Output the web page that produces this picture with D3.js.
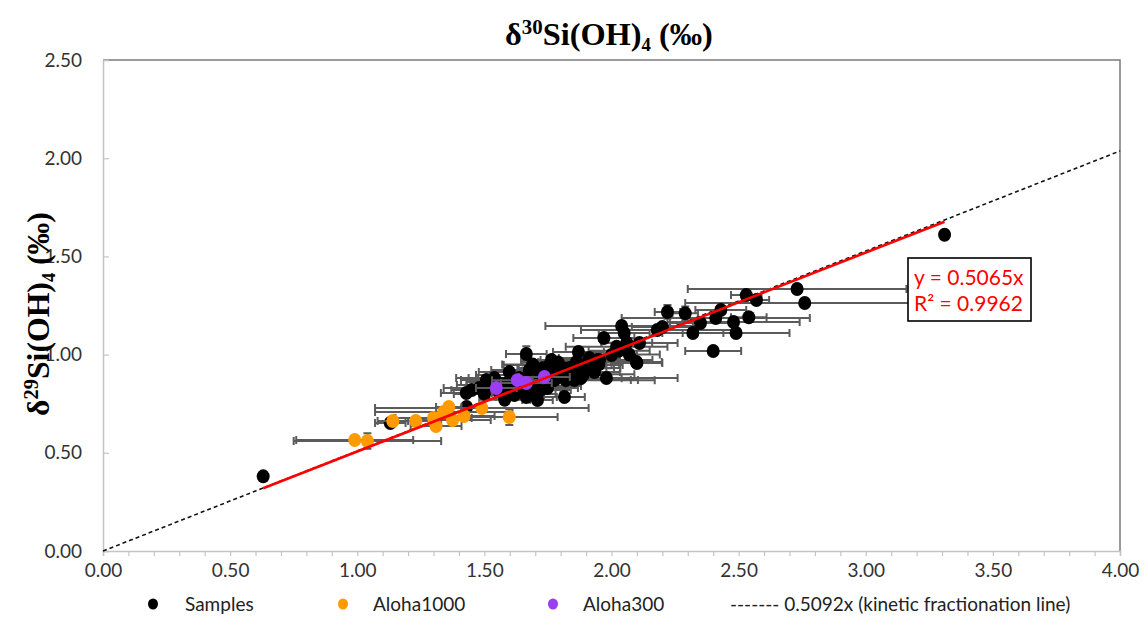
<!DOCTYPE html>
<html>
<head>
<meta charset="utf-8">
<script src="https://cdn.jsdelivr.net/npm/d3@7"></script>
<style>
  body { margin: 0; background: #fff; }
  svg { display: block; }
</style>
</head>
<body>
<svg id="chart" width="1148" height="618"></svg>
<script>
// ---- data: δ30Si (x) vs δ29Si (y), with ± uncertainties ----
const samplesX    = [0.63, 3.31, 1.13, 2.73, 2.76, 2.53, 2.57, 2.54, 2.48, 2.49, 2.43, 2.41, 2.35, 2.32, 2.29, 2.22, 2.20, 2.18, 2.40, 2.11, 2.04, 2.05, 1.97, 2.02, 2.07, 2.10, 1.98, 1.87, 1.862, 1.941, 1.665, 1.764, 1.815, 1.709, 1.665, 1.618, 1.429, 1.43, 1.48, 1.512, 1.539, 1.579, 1.598, 1.638, 1.677, 1.717, 1.756, 1.776, 1.795, 1.835, 1.854, 1.894, 1.933, 1.953, 2.00, 1.913, 1.559, 1.748, 1.508, 2.098, 1.82, 1.70, 1.60, 1.66, 1.79, 1.89,
                     1.45, 1.50, 1.53, 1.57, 1.61, 1.64, 1.68, 1.72, 1.74, 1.78, 1.81, 1.86, 1.88, 1.91, 1.95, 1.69, 1.73, 1.58, 2.03, 2.06, 1.55, 1.84];
const samplesY    = [0.38, 1.61, 0.652, 1.334, 1.263, 1.303, 1.278, 1.19, 1.166, 1.11, 1.227, 1.186, 1.161, 1.11, 1.21, 1.217, 1.14, 1.125, 1.018, 1.059, 1.146, 1.11, 1.084, 1.04, 1.00, 0.957, 0.881, 1.013, 0.962, 0.973, 1.003, 0.973, 0.784, 0.769, 0.784, 0.794, 0.804, 0.733, 0.83, 0.845, 0.881, 0.85, 0.911, 0.881, 0.922, 0.896, 0.947, 0.871, 0.911, 0.932, 0.871, 0.947, 0.911, 0.973, 0.998, 0.983, 0.81, 0.83, 0.871, 0.962, 0.87, 0.84, 0.83, 0.86, 0.96, 0.90,
                     0.82, 0.80, 0.86, 0.83, 0.86, 0.82, 0.80, 0.82, 0.87, 0.90, 0.93, 0.94, 0.88, 0.93, 0.95, 0.95, 0.93, 0.77, 1.02, 1.06, 0.86, 0.90];
const samplesXErr = [0, 0, 0.06, 0.43, 0.47, 0.06, 0.05, 0.07, 0.26, 0.21, 0.10, 0.37, 0.12, 0.12, 0.05, 0.05, 0.12, 0.30, 0.11, 0.15, 0.30, 0.10, 0.12, 0.20, 0.12, 0.10, 0.28, 0.10, 0.15, 0.22, 0.08, 0.12, 0.08, 0.06, 0.12, 0.10, 0.10, 0.06, 0.14, 0.12, 0.15, 0.10, 0.12, 0.20, 0.15, 0.25, 0.18, 0.30, 0.12, 0.20, 0.25, 0.15, 0.10, 0.08, 0.10, 0.12, 0.08, 0.12, 0.10, 0.10, 0.35, 0.18, 0.14, 0.10, 0.14, 0.20,
                     0.08, 0.12, 0.10, 0.14, 0.12, 0.16, 0.10, 0.12, 0.10, 0.14, 0.10, 0.12, 0.16, 0.10, 0.08, 0.12, 0.10, 0.10, 0.12, 0.10, 0.12, 0.14];
const samplesYErr = [0, 0, 0.02, 0.02, 0.02, 0.02, 0.02, 0.02, 0.02, 0.02, 0.02, 0.02, 0.02, 0.02, 0.035, 0.035, 0.02, 0.02, 0.02, 0.02, 0.02, 0.02, 0.02, 0.02, 0.02, 0.02, 0.02, 0.02, 0.02, 0.02, 0.04, 0.02, 0.02, 0.02, 0.02, 0.02, 0.02, 0.02, 0.02, 0.02, 0.02, 0.02, 0.02, 0.02, 0.02, 0.02, 0.02, 0.02, 0.02, 0.02, 0.02, 0.02, 0.02, 0.02, 0.02, 0.02, 0.02, 0.02, 0.02, 0.02, 0.02, 0.02, 0.02, 0.02, 0.02, 0.02,
                     0.02, 0.02, 0.02, 0.02, 0.02, 0.02, 0.02, 0.02, 0.02, 0.02, 0.02, 0.02, 0.02, 0.02, 0.02, 0.02, 0.02, 0.02, 0.02, 0.02, 0.02, 0.02];

const aloha1000X    = [0.99, 1.04, 1.14, 1.23, 1.30, 1.31, 1.34, 1.36, 1.375, 1.42, 1.49, 1.598];
const aloha1000Y    = [0.565, 0.56, 0.662, 0.662, 0.677, 0.636, 0.708, 0.733, 0.667, 0.687, 0.728, 0.682];
const aloha1000XErr = [0.23, 0.29, 0.06, 0.10, 0.15, 0.10, 0.27, 0.05, 0.15, 0.12, 0.42, 0.19];
const aloha1000YErr = [0.02, 0.04, 0.02, 0.02, 0.02, 0.02, 0.02, 0.02, 0.02, 0.02, 0.02, 0.04];

const aloha300X    = [1.547, 1.63, 1.665, 1.736];
const aloha300Y    = [0.83, 0.87, 0.855, 0.886];
const aloha300XErr = [0.08, 0.10, 0.10, 0.10];
const aloha300YErr = [0.02, 0.02, 0.02, 0.02];

const xTicks = [0, 0.5, 1, 1.5, 2, 2.5, 3, 3.5, 4];
const yTicks = [0, 0.5, 1, 1.5, 2, 2.5];
const xMinorTicks = d3.range(0, 41).map(i => i / 10);

const fitSlope = 0.5065;       // least-squares fit through the origin
const fitR2 = 0.9962;
const fitRange = [0.63, 3.31];
const kineticSlope = 0.5092;   // kinetic fractionation line
const kineticRange = [0, 4];

const seriesNames = ["Samples", "Aloha1000", "Aloha300"];
const seriesColors = ["#000000", "#FF9A00", "#9B3DF4"];

(function draw() {
  const svg = d3.select("#chart");
  const W = 1148, H = 618;
  const pL = 103, pR = 1120, pT = 60, pB = 551;

  const x = d3.scaleLinear().domain([0, 4]).range([pL, pR]);
  const y = d3.scaleLinear().domain([0, 2.5]).range([pB, pT]);

  const tickFont = "Lato, 'Open Sans', sans-serif";
  const serif = "'Liberation Serif', 'DejaVu Serif', serif";

  svg.append("rect").attr("width", W).attr("height", H).attr("fill", "#fff");

  // plot-area frame (top and right edges)
  svg.append("path")
    .attr("d", `M${pL},${pT}H${pR}V${pB}`)
    .attr("fill", "none").attr("stroke", "#7a7a7a").attr("stroke-width", 1.5);

  // x axis: minor ticks every 0.1, labels every 0.5
  const xMinor = svg.append("g").attr("transform", `translate(0,${pB})`)
    .call(d3.axisBottom(x).tickValues(xMinorTicks).tickSize(5).tickFormat(""));
  xMinor.select(".domain").attr("stroke", "#c4c4c4").attr("stroke-width", 1.5);
  xMinor.selectAll(".tick line").attr("stroke", "#c4c4c4").attr("stroke-width", 1.2);

  const xLab = svg.append("g").attr("transform", `translate(0,${pB})`)
    .call(d3.axisBottom(x).tickValues(xTicks).tickSize(0).tickPadding(13).tickFormat(d3.format(".2f")));
  xLab.select(".domain").remove();
  xLab.selectAll("text").attr("font-family", tickFont).attr("font-size", 19).attr("fill", "#333");

  // y axis: ticks point into the plot
  const yAx = svg.append("g").attr("transform", `translate(${pL},0)`)
    .call(d3.axisLeft(y).tickValues(yTicks).tickSize(-6).tickPadding(21).tickFormat(d3.format(".2f")));
  yAx.select(".domain").attr("stroke", "#c4c4c4").attr("stroke-width", 1.5);
  yAx.selectAll(".tick line").attr("stroke", "#c4c4c4").attr("stroke-width", 1.2);
  yAx.selectAll("text").attr("font-family", tickFont).attr("font-size", 19).attr("fill", "#333");

  // kinetic fractionation line (dashed)
  svg.append("line")
    .attr("x1", x(kineticRange[0])).attr("y1", y(kineticSlope * kineticRange[0]))
    .attr("x2", x(kineticRange[1])).attr("y2", y(kineticSlope * kineticRange[1]))
    .attr("stroke", "#111").attr("stroke-width", 1.6).attr("stroke-dasharray", "4,3");

  // series with error bars
  const series = [
    { xs: samplesX, ys: samplesY, xe: samplesXErr, ye: samplesYErr, color: seriesColors[0] },
    { xs: aloha1000X, ys: aloha1000Y, xe: aloha1000XErr, ye: aloha1000YErr, color: seriesColors[1] },
    { xs: aloha300X, ys: aloha300Y, xe: aloha300XErr, ye: aloha300YErr, color: seriesColors[2] }
  ].map(s => ({ color: s.color, pts: s.xs.map((v, i) => ({ x: v, y: s.ys[i], xe: s.xe[i], ye: s.ye[i] })) }));

  const barColor = "#5b5b5b", cap = 4;
  series.forEach(s => {
    const g = svg.append("g");
    const eb = g.append("g").attr("stroke", barColor).attr("stroke-width", 2).attr("fill", "none");
    s.pts.forEach(p => {
      const cx = x(p.x), cy = y(p.y);
      if (p.xe > 0) {
        const x0 = x(p.x - p.xe), x1 = x(p.x + p.xe);
        eb.append("path").attr("d",
          `M${x0},${cy}H${x1}M${x0},${cy - cap}V${cy + cap}M${x1},${cy - cap}V${cy + cap}`);
      }
      if (p.ye > 0) {
        const y0 = y(p.y - p.ye), y1 = y(p.y + p.ye);
        eb.append("path").attr("d",
          `M${cx},${y0}V${y1}M${cx - cap},${y0}H${cx + cap}M${cx - cap},${y1}H${cx + cap}`);
      }
    });
    g.selectAll("ellipse").data(s.pts).join("ellipse")
      .attr("cx", d => x(d.x)).attr("cy", d => y(d.y)).attr("rx", 6.5).attr("ry", 7)
      .attr("fill", s.color);
  });

  // fitted line through the origin
  svg.append("line")
    .attr("x1", x(fitRange[0])).attr("y1", y(fitSlope * fitRange[0]))
    .attr("x2", x(fitRange[1])).attr("y2", y(fitSlope * fitRange[1]))
    .attr("stroke", "#FF0000").attr("stroke-width", 2.6);

  // fit equation box
  svg.append("rect").attr("x", 908).attr("y", 258).attr("width", 123).attr("height", 63)
    .attr("fill", "#fff").attr("stroke", "#000").attr("stroke-width", 1.6);
  const eq = svg.append("text").attr("font-family", tickFont).attr("font-size", 21).attr("fill", "#FF0000");
  eq.append("tspan").attr("x", 914).attr("y", 285).text(`y = ${fitSlope.toFixed(4)}x`);
  eq.append("tspan").attr("x", 914).attr("y", 311).text(`R² = ${fitR2.toFixed(4)}`);

  // squeeze serif headings to their target width
  function fitWidth(sel, target) {
    const len = sel.node().getComputedTextLength();
    return len > 0 ? target / len : 1;
  }

  function isotopeLabel(mass) {
    const t = svg.append("text").attr("font-family", serif).attr("font-weight", "bold")
      .attr("font-size", 31).attr("fill", "#000");
    t.append("tspan").text("δ");
    t.append("tspan").attr("font-size", 20).attr("dy", -11).text(mass);
    t.append("tspan").attr("dy", 11).text("Si(OH)");
    t.append("tspan").attr("font-size", 18).attr("dy", 6).text("4");
    t.append("tspan").attr("dy", -6).text(" (‰)");
    return t;
  }

  // title
  const title = isotopeLabel("30");
  title.attr("transform", `translate(505,45) scale(${fitWidth(title, 208)},1)`);

  // y-axis title
  const ytitle = isotopeLabel("29");
  ytitle.attr("transform", `translate(49,416) rotate(-90) scale(${fitWidth(ytitle, 204)},1)`);

  // legend
  const legY = 604;
  const legend = svg.append("g").attr("font-family", tickFont).attr("font-size", 19).attr("fill", "#222");
  const legItems = [
    { name: seriesNames[0], color: seriesColors[0], mx: 153, tx: 185 },
    { name: seriesNames[1], color: seriesColors[1], mx: 343, tx: 373 },
    { name: seriesNames[2], color: seriesColors[2], mx: 553, tx: 583 }
  ];
  legItems.forEach(it => {
    legend.append("ellipse").attr("cx", it.mx).attr("cy", legY).attr("rx", 5).attr("ry", 5.5).attr("fill", it.color);
    legend.append("text").attr("x", it.tx).attr("y", legY + 6.5).text(it.name);
  });
  legend.append("text").attr("x", 730).attr("y", legY + 6.5)
    .text(`------- ${kineticSlope}x (kinetic fractionation line)`);
})();
</script>
</body>
</html>
